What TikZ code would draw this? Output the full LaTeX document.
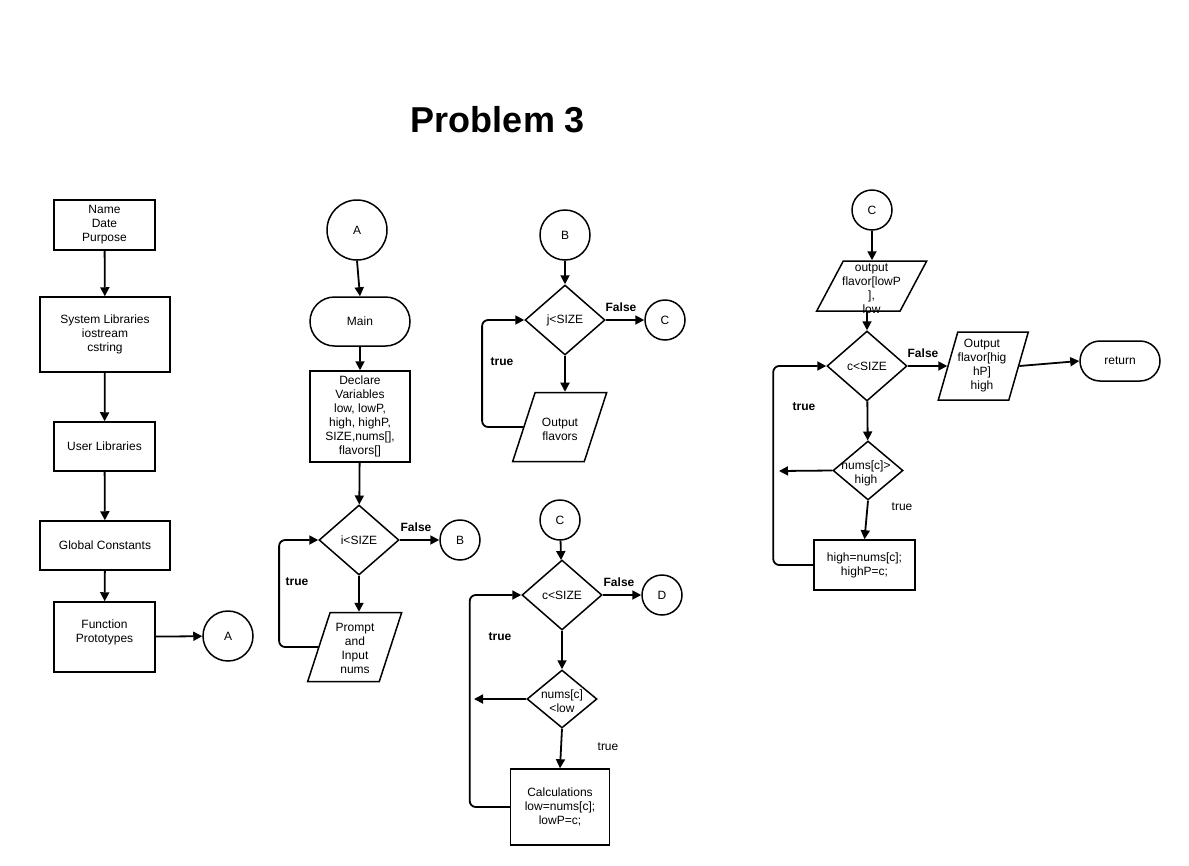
\documentclass[tikz,border=0pt]{standalone}
\usepackage{fontspec}
\setmainfont{Liberation Sans}
\usetikzlibrary{shapes.geometric,shapes.misc,arrows.meta}
\tikzset{
  figbox/.style={draw=black, fill=white, line width=1.5pt, inner sep=0pt, align=center},
  procbox/.style={figbox, rectangle},
  termbox/.style={figbox, rounded rectangle},
  circ/.style={figbox, circle},
  decbox/.style={figbox, diamond},
  iobox/.style 2 args={figbox, trapezium, trapezium stretches body, trapezium left angle=#1, trapezium right angle=#2},
  txt/.style={align=center, inner sep=0pt},
  arr/.style={line width=1.8pt, -{Triangle[length=9pt,width=9pt]}},
  loop/.style={arr, rounded corners=6pt},
  lbl/.style={inner sep=0pt},
  lblb/.style={inner sep=0pt, font=\fontsize{12}{14}\selectfont\bfseries},
}
\begin{document}
\begin{tikzpicture}[x=1pt,y=-1pt,font=\fontsize{12}{14}\selectfont]
\useasboundingbox (0,0) rectangle (1189,865);
\node[font=\fontsize{36}{40}\selectfont\bfseries] (title) at (498,120) {Problem 3};

\node[procbox, minimum width=101pt, minimum height=50pt] (nm) at (104.5,225) {Name\\Date\\Purpose};
\node[procbox, minimum width=130pt, minimum height=75pt] (sys) at (105,334.5) {System Libraries\\iostream\\cstring};
\node[procbox, minimum width=101pt, minimum height=49pt] (usr) at (104.5,446.5) {User Libraries};
\node[procbox, minimum width=130pt, minimum height=49pt] (glb) at (105,545.5) {Global Constants};
\node[procbox, minimum width=101pt, minimum height=70pt] (fpr) at (104.5,637) {};
\node[txt] (fprt) at (104.5,632.5) {Function\\Prototypes};
\node[circ, minimum size=50pt] (A1) at (228,636) {A};
\draw[arr] (nm) -- (sys);
\draw[arr] (sys) -- (usr);
\draw[arr] (usr) -- (glb);
\draw[arr] (glb) -- (fpr);
\draw[arr] (fpr) -- (A1);

\node[circ, minimum size=60pt] (A2) at (357,230) {A};
\node[termbox, minimum width=100pt, minimum height=49pt] (main) at (360,321.5) {Main};
\node[procbox, minimum width=100pt, minimum height=91pt] (decl) at (360,416.5) {Declare\\Variables\\low, lowP,\\high, highP,\\SIZE,nums[],\\flavors[]};
\node[decbox, minimum width=80pt, minimum height=70pt] (d1) at (359,540) {i<SIZE};
\node[circ, minimum size=40pt] (B1) at (460,540) {B};
\node[iobox={72}{108}, minimum width=94pt, text height=34.5pt, text depth=34.5pt] (prompt) at (354.7,647) {};
\node[txt] (promptt) at (355,648.5) {Prompt\\and\\Input\\nums};
\node[lblb] (f1) at (416,527) {False};
\node[lblb] (t1) at (297,582) {true};
\draw[arr] (A2.south) -- (main.north);
\draw[arr] (main) -- (decl);
\draw[arr] (decl) -- (d1);
\draw[arr] (d1) -- (B1);
\draw[arr] (d1.south) -- (d1.south |- prompt.north);
\draw[loop] (prompt.west) -- ++(-39,0) |- (d1.west);

\node[circ, minimum size=50pt] (B2) at (565,235) {B};
\node[decbox, minimum width=80pt, minimum height=70pt] (d2) at (565,320) {j<SIZE};
\node[circ, minimum size=40pt] (C1) at (665,320) {C};
\node[iobox={72}{108}, minimum width=94pt, text height=34.5pt, text depth=34.5pt] (outfl) at (559.7,427) {};
\node[txt] (outflt) at (560,429.5) {Output\\flavors};
\node[lblb] (f2) at (621,307) {False};
\node[lblb] (t2) at (502,362) {true};
\draw[arr] (B2) -- (d2);
\draw[arr] (d2) -- (C1);
\draw[arr] (d2.south) -- (d2.south |- outfl.north);
\draw[loop] (outfl.west) -- ++(-41,0) |- (d2.west);

\node[circ, minimum size=40pt] (C2) at (560,520) {C};
\node[decbox, minimum width=80pt, minimum height=70pt] (d3) at (562,595) {c<SIZE};
\node[circ, minimum size=40pt] (D1) at (662,595) {D};
\node[decbox, minimum width=70pt, minimum height=58pt] (d4) at (562,699) {};
\node[txt] (d4t) at (562,701.5) {nums[c]\\<low};
\node[procbox, minimum width=99pt, minimum height=76pt] (calc) at (560,807) {Calculations\\low=nums[c];\\lowP=c;};
\coordinate (e1) at (474,699);
\node[lblb] (f3) at (619,582) {False};
\node[lblb] (t3) at (500,637) {true};
\node[lbl] (t4) at (608,747) {true};
\draw[arr] (C2) -- (d3);
\draw[arr] (d3) -- (D1);
\draw[arr] (d3) -- (d4);
\draw[arr] (d4.west) -- (e1);
\draw[arr] (d4.south) -- (calc.north);
\draw[loop] (calc.west) -- ++(-40,0) |- (d3.west);

\node[circ, minimum size=40pt] (C3) at (872,210) {C};
\node[iobox={62}{118}, minimum width=110pt, text height=25pt, text depth=25pt] (outlow) at (871.7,286) {};
\node[txt] (outlowt) at (871.5,288.5) {output\\flavor[lowP\\],\\low};
\node[decbox, minimum width=80pt, minimum height=70pt] (d5) at (867,366) {c<SIZE};
\node[iobox={74}{106}, minimum width=90pt, text height=34pt, text depth=34pt] (outhi) at (983.3,366) {};
\node[txt] (outhit) at (982,366) {Output\\flavor[hig\\hP]\\high};
\node[termbox, minimum width=80pt, minimum height=40pt] (ret) at (1120,361) {return};
\node[decbox, minimum width=70pt, minimum height=59pt] (d6) at (868,470.5) {};
\node[txt] (d6t) at (866,473) {nums[c]>\\high};
\node[procbox, minimum width=101pt, minimum height=50pt] (hibox) at (864.5,565) {high=nums[c];\\highP=c;};
\coordinate (e2) at (779,471);
\node[lblb] (f4) at (923,353) {False};
\node[lblb] (t5) at (804,407) {true};
\node[lbl] (t6) at (902,507) {true};
\draw[arr] (C3.south) -- (C3.south |- outlow.north);
\draw[arr] (d5.north |- outlow.south) -- (d5.north);
\draw[arr] (d5) -- (outhi);
\draw[arr] (outhi.east) -- (ret.west);
\draw[arr] (d5) -- (d6);
\draw[arr] (d6.west) -- (e2);
\draw[arr] (d6.south) -- (hibox.north);
\draw[loop] (hibox.west) -- ++(-40,0) |- (d5.west);
\end{tikzpicture}
\end{document}
